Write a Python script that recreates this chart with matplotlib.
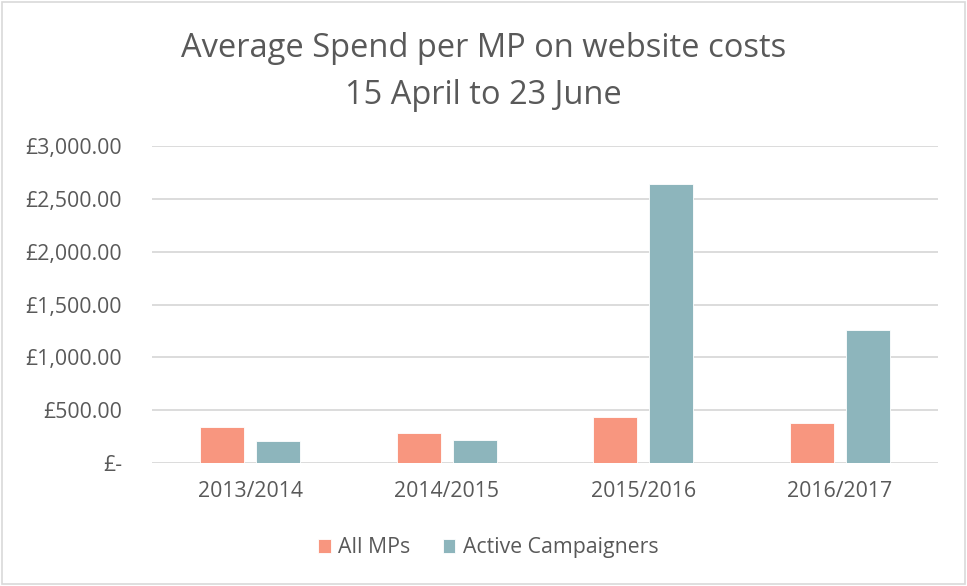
#!/usr/bin/env python3
import numpy as np
import matplotlib
matplotlib.use("Agg")
import matplotlib.pyplot as plt
from matplotlib.patches import Rectangle


YEARS = ["2013/2014", "2014/2015", "2015/2016", "2016/2017"]
ALL_MPS = [336, 283, 437, 380]
ACTIVE = [204, 217, 2640, 1258]
YTICKS = [0, 500, 1000, 1500, 2000, 2500, 3000]
YTICK_LABELS = ["£-", "£500.00", "£1,000.00", "£1,500.00", "£2,000.00", "£2,500.00", "£3,000.00"]

GREY = "#595959"


def main():
    plt.rcParams["font.family"] = ["Open Sans", "DejaVu Sans"]
    fig = plt.figure(figsize=(9.67, 5.86), dpi=100)
    ax = fig.add_axes([152 / 967, 123 / 586, 786 / 967, 317 / 586])

    x = np.arange(len(YEARS))
    w = 0.224
    off = 0.143
    ax.bar(x - off, ALL_MPS, w, color="#F8967F", edgecolor="white", linewidth=0.6,
           label="All MPs", zorder=3)
    ax.bar(x + off, ACTIVE, w, color="#8DB5BC", edgecolor="white", linewidth=0.6,
           label="Active Campaigners", zorder=3)

    ax.set_xlim(-0.5, len(YEARS) - 0.5)
    ax.set_ylim(0, 3000)
    ax.set_yticks(YTICKS)
    ax.set_yticklabels(YTICK_LABELS)
    ax.set_xticks(x)
    ax.set_xticklabels(YEARS)
    ax.yaxis.grid(True, color="#D9D9D9", linewidth=1.3, zorder=0)
    ax.set_axisbelow(True)
    for s in ax.spines.values():
        s.set_visible(False)
    ax.tick_params(axis="both", length=0, colors=GREY, labelsize=15.3)
    ax.tick_params(axis="y", pad=21.6)
    ax.tick_params(axis="x", pad=13)

    fig.text(0.5, 0.877, "Average Spend per MP on website costs\n15 April to 23 June",
             ha="center", va="center", fontsize=23.5, color=GREY, linespacing=1.55)

    fig.legend(loc="center", bbox_to_anchor=(0.505, 0.065), ncol=2, frameon=False,
               fontsize=15.3, labelcolor=GREY, handlelength=0.6, handleheight=0.6,
               handletextpad=0.35, columnspacing=1.5)

    fig.patches.append(Rectangle((0.002, 0.003), 0.996, 0.994, transform=fig.transFigure,
                                 fill=False, edgecolor="#D9D9D9", linewidth=1.2))

    fig.savefig("out.png", dpi=100)


if __name__ == '__main__':
    main()
